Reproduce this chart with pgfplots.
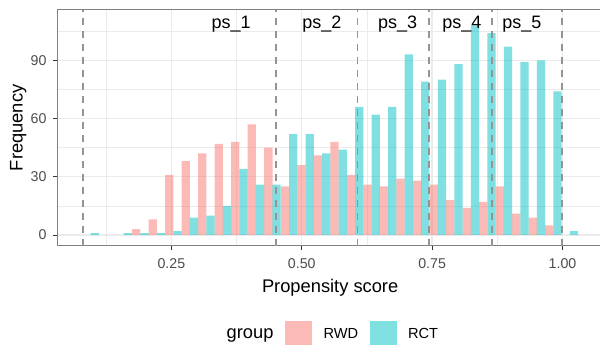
\documentclass[border=0pt]{standalone}
\usepackage{fontspec}
\setmainfont{Liberation Sans}
\usepackage{pgfplots}
\pgfplotsset{compat=1.18}
\definecolor{rwd}{HTML}{F8766D}
\definecolor{rct}{HTML}{00BFC4}
\definecolor{grid92}{HTML}{EBEBEB}
\definecolor{gray30}{HTML}{4D4D4D}
\definecolor{gray20}{HTML}{333333}
\begin{document}
\begin{tikzpicture}
\useasboundingbox (-57.3bp,-99.3bp) rectangle (542.7bp,245.7bp);
\begin{axis}[
  scale only axis, width=545.7bp, height=235.7bp,
  at={(0,0)}, anchor=south west,
  xmin=0.0313, xmax=1.0776, ymin=-5.52, ymax=115.92,
  xtick={0.25,0.5,0.75,1}, xticklabels={0.25,0.50,0.75,1.00},
  minor xtick={0.125,0.375,0.625,0.875},
  ytick={0,30,60,90}, yticklabels={0,30,60,90},
  minor ytick={15,45,75,105},
  grid=both,
  major grid style={grid92, line width=1.4bp},
  minor grid style={grid92, line width=0.7bp},
  tick align=outside,
  major tick length=4.5bp,
  minor tick length=0pt,
  xtick pos=bottom, ytick pos=left,
  tick style={gray20, line width=0.9bp},
  axis line style={black!50, line width=1bp},
  ticklabel style={font=\fontsize{14.2bp}{16bp}\selectfont, text=gray30},
  xticklabel style={inner sep=0pt, anchor=north, yshift=-8.3bp},
  yticklabel style={inner sep=0pt, anchor=east, xshift=-6.1bp},
  xlabel={Propensity score}, ylabel={Frequency},
  label style={font=\fontsize{18.3bp}{20bp}\selectfont},
  xlabel style={at={(axis description cs:0.5,-0.1986)}, anchor=base, inner sep=0pt},
  ylabel style={at={(axis description cs:-0.06377,0.5)}, anchor=base, inner sep=0pt},
  legend columns=-1,
  legend style={at={(axis description cs:0.2894,-0.3768)}, anchor=west,
    draw=none, fill=none, inner sep=0pt, outer sep=0pt,
    column sep=11.5bp,
    nodes={inner sep=0pt, font=\fontsize{14.6bp}{16bp}\selectfont},
    cells={anchor=west}},
]
\addlegendimage{empty legend}
\addlegendentry{\fontsize{18.3bp}{20bp}\selectfont group}

\addplot[ybar, bar width=0.01584, bar shift=0pt, fill=rwd, fill opacity=0.5, draw=none,
  legend image code/.code={\fill[rwd, fill opacity=0.5] (0bp,-13.5bp) rectangle (27bp,13.5bp);}]
coordinates {
(0.1825,3) (0.2142,8) (0.2459,31) (0.2775,38) (0.3092,42) (0.3409,47)
(0.3726,48) (0.4043,57) (0.4360,45) (0.4677,25) (0.4994,36) (0.5311,41)
(0.5628,48) (0.5945,31) (0.6261,26) (0.6578,25) (0.6895,29) (0.7212,28)
(0.7529,26) (0.7846,18) (0.8163,14) (0.8480,17) (0.8797,25) (0.9114,11)
(0.9430,9) (0.9747,5)
};
\addlegendentry{RWD}

\addplot[ybar, bar width=0.01584, bar shift=0pt, fill=rct, fill opacity=0.5, draw=none,
  legend image code/.code={\fill[rct, fill opacity=0.5] (0bp,-13.5bp) rectangle (27bp,13.5bp);}]
coordinates {
(0.1032,1) (0.1666,1) (0.1983,1) (0.2300,1) (0.2617,2) (0.2933,9)
(0.3250,10) (0.3567,15) (0.3884,34) (0.4201,26) (0.4518,26) (0.4835,52)
(0.5152,52) (0.5469,42) (0.5786,44) (0.6103,66) (0.6419,62) (0.6736,66)
(0.7053,93) (0.7370,79) (0.7687,80) (0.8004,88) (0.8321,108) (0.8638,104)
(0.8955,97) (0.9272,89) (0.9588,90) (0.9905,74) (1.0222,2)
};
\addlegendentry{RCT}

\pgfplotsset{vl/.style={forget plot, black!42, line width=1.8bp, dash pattern=on 7bp off 6bp}}
\addplot[vl] coordinates {(0.080,-5.52) (0.080,115.92)};
\addplot[vl] coordinates {(0.4505,-5.52) (0.4505,115.92)};
\addplot[vl] coordinates {(0.607,-5.52) (0.607,115.92)};
\addplot[vl] coordinates {(0.744,-5.52) (0.744,115.92)};
\addplot[vl] coordinates {(0.864,-5.52) (0.864,115.92)};
\addplot[vl] coordinates {(0.9995,-5.52) (0.9995,115.92)};

\node[anchor=base, inner sep=0pt, font=\fontsize{18bp}{20bp}\selectfont] at (axis cs:0.3646,106.5) {ps\_1};
\node[anchor=base, inner sep=0pt, font=\fontsize{18bp}{20bp}\selectfont] at (axis cs:0.5387,106.5) {ps\_2};
\node[anchor=base, inner sep=0pt, font=\fontsize{18bp}{20bp}\selectfont] at (axis cs:0.6838,106.5) {ps\_3};
\node[anchor=base, inner sep=0pt, font=\fontsize{18bp}{20bp}\selectfont] at (axis cs:0.8071,106.5) {ps\_4};
\node[anchor=base, inner sep=0pt, font=\fontsize{18bp}{20bp}\selectfont] at (axis cs:0.9222,106.5) {ps\_5};
\end{axis}
\end{tikzpicture}
\end{document}
